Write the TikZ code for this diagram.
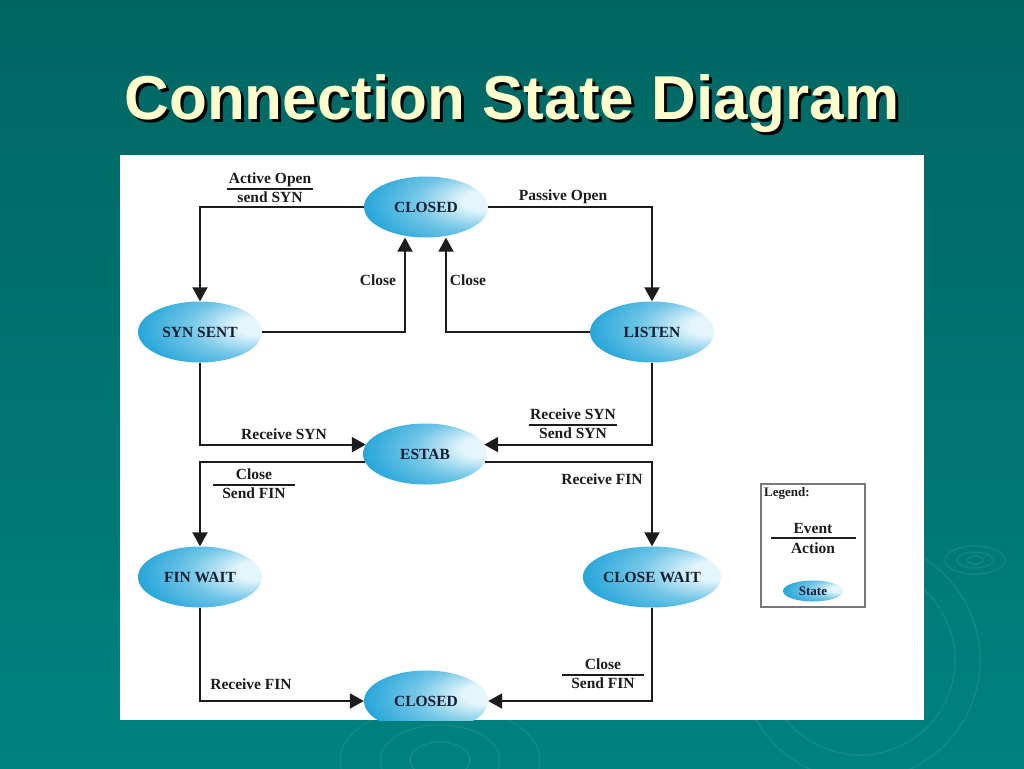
\documentclass[tikz,border=0pt]{standalone}
\usepackage{fontspec}
\setmainfont{Liberation Serif}
\newfontfamily\titlefont{Liberation Sans}
\usetikzlibrary{shapes.geometric,arrows.meta}
\definecolor{bgTop}{RGB}{0,102,98}
\definecolor{bgBot}{RGB}{0,130,127}
\definecolor{ellDark}{RGB}{25,160,215}
\definecolor{ellLight}{RGB}{228,246,252}
\definecolor{stText}{RGB}{16,30,50}
\definecolor{lnCol}{RGB}{28,28,28}
\definecolor{titleCol}{RGB}{255,255,204}
\definecolor{legBorder}{RGB}{120,120,120}
\pgfdeclareradialshading{ellshade}{\pgfpoint{26bp}{6bp}}{%
  color(0bp)=(ellLight);
  color(8bp)=(ellLight);
  color(22bp)=(ellLight!45!ellDark);
  color(40bp)=(ellDark);
  color(70bp)=(ellDark!92!black)}
\newcommand{\frc}[3][1.5pt]{{\setlength\tabcolsep{#1}\setlength\arrayrulewidth{1.1pt}\renewcommand\arraystretch{1.0}\begin{tabular}{c}#2\\\hline #3\end{tabular}}}
\tikzset{
  stnode/.style={ellipse, minimum width=124pt, minimum height=61pt, inner sep=0pt,
    shading=ellshade, text=stText, font=\fontsize{15.5}{18}\selectfont\bfseries},
  conn/.style={line width=2.1pt, draw=lnCol, -{Triangle[width=15pt,length=14pt]}},
  lbl/.style={inner sep=0pt, text=lnCol, font=\fontsize{15.5}{18}\selectfont\bfseries},
  ripple/.style={draw=white, draw opacity=0.07, line width=1.6pt},
}
\begin{document}
\begin{tikzpicture}[x=1pt,y=-1pt]
\useasboundingbox (0,0) rectangle (1024,768);
% background
\shade[top color=bgTop, bottom color=bgBot] (0,0) rectangle (1024,768);
% ripples
\draw[ripple] (975,560) ellipse [x radius=30, y radius=14];
\draw[ripple] (975,560) ellipse [x radius=18, y radius=8];
\draw[ripple] (975,560) ellipse [x radius=8, y radius=4];
\draw[ripple] (860,660) circle [radius=95];
\draw[ripple] (860,660) circle [radius=120];
\draw[ripple] (440,760) ellipse [x radius=60, y radius=35];
\draw[ripple] (440,760) ellipse [x radius=100, y radius=55];
\draw[ripple] (440,760) ellipse [x radius=30, y radius=18];
% title
\node[text=black, font=\titlefont\fontsize{62}{70}\selectfont\bfseries, anchor=base] (titleShadow) at (515,122) {Connection State Diagram};
\node[text=titleCol, font=\titlefont\fontsize{62}{70}\selectfont\bfseries, anchor=base] (title) at (512,119) {Connection State Diagram};
% panel
\fill[white] (120,155) rectangle (924,720);
\begin{scope}
\clip (120,155) rectangle (924,720);
% states
\node[stnode] (closedT) at (426,207) {CLOSED};
\node[stnode] (synsent) at (200,332) {SYN SENT};
\node[stnode] (listen) at (652,332) {LISTEN};
\node[stnode] (estab) at (425,454) {ESTAB};
\node[stnode] (finwait) at (200,577) {FIN WAIT};
\node[stnode] (closewait) at (652,577) {CLOSE WAIT};
\node[stnode] (closedB) at (426,701) {CLOSED};
% connectors
\draw[conn] (closedT.west) -| (synsent.north);
\draw[conn] (closedT.east) -| (listen.north);
\draw[conn] (synsent.east) -| ([xshift=-21pt]closedT.south);
\draw[conn] (listen.west) -| ([xshift=20pt]closedT.south);
\draw[conn] (synsent.south) |- (estab.171);
\draw[conn] (listen.south) |- (estab.9);
\draw[conn] (estab.188) -| (finwait.north);
\draw[conn] (estab.-8) -| (closewait.north);
\draw[conn] (finwait.south) |- (closedB.west);
\draw[conn] (closewait.south) |- (closedB.east);
% labels
\node[lbl] (lActive) at (270,189) {\frc{Active Open}{send SYN}};
\node[lbl] (lPassive) at (563,197) {Passive Open};
\node[lbl] (lClose1) at (378,280) {Close};
\node[lbl] (lClose2) at (468,280) {Close};
\node[lbl] (lRecvSyn) at (284,434) {Receive SYN};
\node[lbl] (lRecvSend) at (573,425) {\frc{Receive SYN}{Send SYN}};
\node[lbl] (lCloseFin1) at (254,485) {\frc[9pt]{Close}{Send FIN}};
\node[lbl] (lRecvFin1) at (602,479) {Receive FIN};
\node[lbl] (lRecvFin2) at (251,684) {Receive FIN};
\node[lbl] (lCloseFin2) at (603,675) {\frc[9pt]{Close}{Send FIN}};
% legend
\draw[legBorder, line width=1.6pt] (761,484) rectangle (865,607);
\node[lbl, anchor=west, font=\fontsize{13}{15}\selectfont\bfseries] (legTitle) at (764,493) {Legend:};
\node[lbl] (legEvent) at (813,528) {Event};
\node[lbl] (legAction) at (813,548) {Action};
\draw[lnCol, line width=1.2pt] (771,538) -- (856,538);
\node[stnode, minimum width=60pt, minimum height=21pt, font=\fontsize{13}{15}\selectfont\bfseries] (legState) at (813,591) {State};
\end{scope}
\end{tikzpicture}
\end{document}
